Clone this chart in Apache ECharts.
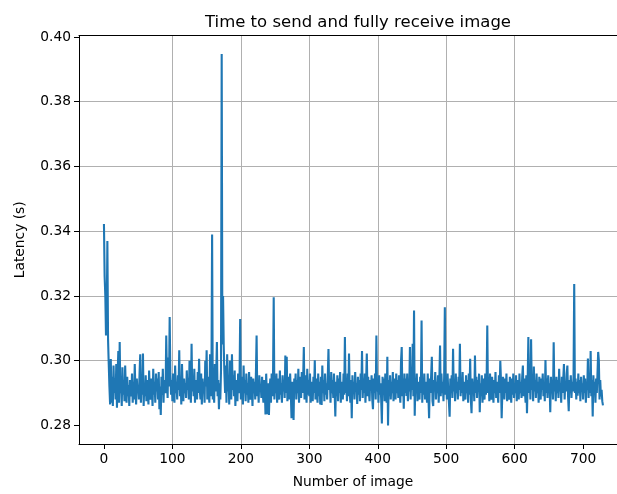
<!DOCTYPE html>
<html>
<head>
<meta charset="utf-8">
<script src="https://cdn.jsdelivr.net/npm/echarts@6/dist/echarts.min.js"></script>
<style>
  html, body { margin: 0; padding: 0; background: #fff; }
  #chart { width: 617px; height: 494px; }
</style>
</head>
<body>
<div id="chart"></div>
<script>
// latency per received image (s), index = image number
var latency = [
    0.3422, 0.3260, 0.3201, 0.3078, 0.3120, 0.3370, 0.3065, 0.2990, 0.2920, 0.2865,
    0.3005, 0.2870, 0.2950, 0.2860, 0.2985, 0.2900, 0.2945, 0.2880, 0.2990, 0.2855,
    0.2960, 0.3030, 0.2870, 0.3058, 0.2900, 0.2930, 0.2860, 0.2980, 0.2895, 0.2940,
    0.2875, 0.2985, 0.2910, 0.2870, 0.2950, 0.2890, 0.2925, 0.2860, 0.2940, 0.2905,
    0.2890, 0.2960, 0.2870, 0.2935, 0.2880, 0.2990, 0.2905, 0.2865, 0.2945, 0.2900,
    0.2925, 0.2880, 0.2960, 0.3020, 0.2870, 0.2945, 0.2895, 0.3022, 0.2860, 0.2930,
    0.2890, 0.2955, 0.2875, 0.2940, 0.2910, 0.2865, 0.2970, 0.2900, 0.2880, 0.2945,
    0.2915, 0.2860, 0.2975, 0.2895, 0.2935, 0.2870, 0.2960, 0.2905, 0.2945, 0.2880,
    0.2965, 0.2850, 0.2920, 0.2832, 0.2950, 0.2895, 0.2975, 0.2870, 0.2940, 0.2910,
    0.2900, 0.3078, 0.2955, 0.2885, 0.3010, 0.2920, 0.3135, 0.2960, 0.2895, 0.2940,
    0.2875, 0.2960, 0.2905, 0.2870, 0.2985, 0.2900, 0.2935, 0.2880, 0.2955, 0.2910,
    0.3032, 0.2890, 0.2950, 0.2865, 0.2990, 0.2915, 0.2875, 0.2945, 0.2900, 0.2930,
    0.2885, 0.2970, 0.2910, 0.2945, 0.2880, 0.3000, 0.2925, 0.2870, 0.3052, 0.2905,
    0.2950, 0.2890, 0.2975, 0.2870, 0.2940, 0.2915, 0.2880, 0.2965, 0.2900, 0.3006,
    0.2910, 0.2880, 0.2960, 0.2865, 0.2945, 0.2900, 0.2935, 0.2870, 0.3000, 0.2920,
    0.3032, 0.2880, 0.2950, 0.2905, 0.2870, 0.3020, 0.2890, 0.2945, 0.3390, 0.2880,
    0.2935, 0.2870, 0.2990, 0.2905, 0.2960, 0.3058, 0.2890, 0.2940, 0.2850, 0.2930,
    0.2880, 0.2970, 0.3947, 0.3050, 0.3200, 0.3045, 0.2960, 0.2900, 0.2985, 0.2870,
    0.3020, 0.2905, 0.2950, 0.2865, 0.3000, 0.2920, 0.2880, 0.3020, 0.2910, 0.2955,
    0.2890, 0.2970, 0.2860, 0.2940, 0.2905, 0.2875, 0.2960, 0.2900, 0.2930, 0.3129,
    0.2880, 0.2950, 0.2910, 0.2865, 0.2985, 0.2900, 0.2940, 0.2875, 0.2960, 0.2895,
    0.2930, 0.2870, 0.2965, 0.2905, 0.2880, 0.2950, 0.2915, 0.2860, 0.2945, 0.2900,
    0.2935, 0.2880, 0.2960, 0.3078, 0.2890, 0.2940, 0.2870, 0.2955, 0.2905, 0.2925,
    0.2885, 0.2950, 0.2900, 0.2870, 0.2940, 0.2915, 0.2834, 0.2960, 0.2890, 0.2835,
    0.2930, 0.2832, 0.2905, 0.2945, 0.2870, 0.2960, 0.2890, 0.2950, 0.3196, 0.2880,
    0.2935, 0.2900, 0.2960, 0.2870, 0.2945, 0.2905, 0.2880, 0.2970, 0.2895, 0.2930,
    0.2870, 0.2955, 0.2905, 0.2940, 0.2885, 0.3016, 0.2900, 0.3012, 0.2875, 0.2950,
    0.2910, 0.2880, 0.2960, 0.2900, 0.2822, 0.2935, 0.2890, 0.2817, 0.2945, 0.2905,
    0.2960, 0.2880, 0.2940, 0.2900, 0.2975, 0.2870, 0.2950, 0.2915, 0.2885, 0.2965,
    0.2900, 0.2945, 0.3042, 0.2880, 0.2955, 0.2910, 0.2870, 0.2975, 0.2895, 0.2940,
    0.2890, 0.2960, 0.2870, 0.2935, 0.2905, 0.2875, 0.2950, 0.2900, 0.3001, 0.2880,
    0.2945, 0.2905, 0.2870, 0.2960, 0.2890, 0.2935, 0.2865, 0.2950, 0.2863, 0.2985,
    0.2900, 0.2940, 0.2875, 0.2960, 0.2895, 0.2930, 0.2880, 0.2950, 0.3036, 0.2910,
    0.2945, 0.2870, 0.2965, 0.2900, 0.2940, 0.2885, 0.2960, 0.2905, 0.2828, 0.2935,
    0.2890, 0.2955, 0.2875, 0.2945, 0.2900, 0.2965, 0.2870, 0.2935, 0.2910, 0.2880,
    0.2960, 0.2895, 0.3073, 0.2900, 0.2945, 0.2875, 0.2960, 0.2890, 0.3022, 0.2905,
    0.2870, 0.2940, 0.2822, 0.2955, 0.2900, 0.2935, 0.2880, 0.2965, 0.2905, 0.2930,
    0.2866, 0.2950, 0.2895, 0.2940, 0.2875, 0.2960, 0.2910, 0.3030, 0.2885, 0.2945,
    0.2900, 0.2960, 0.2870, 0.2935, 0.3022, 0.2890, 0.2950, 0.2905, 0.2875, 0.2940,
    0.2910, 0.2955, 0.2880, 0.2850, 0.2945, 0.2900, 0.2960, 0.2880, 0.3078, 0.2905,
    0.2940, 0.2870, 0.2955, 0.2895, 0.2930, 0.2880, 0.2806, 0.2950, 0.2900, 0.2945,
    0.2875, 0.2960, 0.2905, 0.2870, 0.3012, 0.2800, 0.2940, 0.2890, 0.2955, 0.2880,
    0.2935, 0.2900, 0.2965, 0.2875, 0.2945, 0.2910, 0.2880, 0.2960, 0.2900, 0.2940,
    0.2885, 0.2955, 0.2905, 0.2870, 0.3000, 0.3042, 0.2890, 0.2945, 0.2852, 0.2960,
    0.2900, 0.2945, 0.2891, 0.2960, 0.2875, 0.2935, 0.2905, 0.3042, 0.2880, 0.2950,
    0.2910, 0.3052, 0.2890, 0.3155, 0.2830, 0.2945, 0.2900, 0.2960, 0.2875, 0.2935,
    0.2905, 0.2880, 0.2950, 0.2900, 0.3124, 0.2870, 0.2945, 0.2895, 0.2960, 0.2880,
    0.2935, 0.2905, 0.2870, 0.2960, 0.2890, 0.2822, 0.2945, 0.2900, 0.2955, 0.3012,
    0.2875, 0.2860, 0.2940, 0.2905, 0.2965, 0.2880, 0.2935, 0.2900, 0.2955, 0.2870,
    0.2945, 0.3047, 0.2890, 0.2960, 0.2900, 0.2935, 0.2875, 0.2950, 0.3165, 0.2895,
    0.2940, 0.2880, 0.2960, 0.2905, 0.2870, 0.2827, 0.2945, 0.2900, 0.2955, 0.2885,
    0.3037, 0.2905, 0.2940, 0.2875, 0.2960, 0.2900, 0.2935, 0.2880, 0.2950, 0.2910,
    0.3052, 0.2890, 0.2945, 0.2900, 0.2965, 0.2875, 0.2935, 0.2905, 0.2880, 0.2955,
    0.2900, 0.2940, 0.2870, 0.2960, 0.2895, 0.3006, 0.2880, 0.2838, 0.2945, 0.2905,
    0.2935, 0.2875, 0.3016, 0.2900, 0.2950, 0.2885, 0.2940, 0.2905, 0.2960, 0.2841,
    0.2930, 0.2890, 0.2955, 0.2870, 0.2945, 0.2905, 0.2880, 0.2960, 0.2895, 0.2935,
    0.3109, 0.2900, 0.2945, 0.2875, 0.2960, 0.2905, 0.2880, 0.2950, 0.2915, 0.2870,
    0.2940, 0.2900, 0.2965, 0.2885, 0.2935, 0.2905, 0.2870, 0.2955, 0.2900, 0.3000,
    0.2940, 0.2822, 0.2905, 0.2950, 0.2914, 0.2880, 0.2945, 0.2900, 0.2960, 0.2875,
    0.2935, 0.2905, 0.2880, 0.2950, 0.2910, 0.2870, 0.2945, 0.2895, 0.2960, 0.2885,
    0.2930, 0.2900, 0.2955, 0.2875, 0.2940, 0.2910, 0.2880, 0.2960, 0.2900, 0.2935,
    0.2885, 0.2950, 0.2985, 0.2890, 0.2945, 0.2905, 0.2870, 0.2955, 0.2838, 0.2940,
    0.3073, 0.2900, 0.2950, 0.2880, 0.3066, 0.2910, 0.2945, 0.2875, 0.2982, 0.2905,
    0.2940, 0.2885, 0.2960, 0.2900, 0.2935, 0.2870, 0.2950, 0.2905, 0.2880, 0.2945,
    0.2910, 0.2960, 0.2890, 0.2935, 0.2875, 0.3002, 0.2900, 0.2945, 0.2885, 0.2955,
    0.2905, 0.2930, 0.2841, 0.2950, 0.2900, 0.2940, 0.2880, 0.3057, 0.2905, 0.2935,
    0.2875, 0.2950, 0.2900, 0.2940, 0.2885, 0.2975, 0.2905, 0.2930, 0.2870, 0.2950,
    0.2900, 0.2945, 0.2990, 0.2880, 0.2935, 0.2905, 0.2960, 0.2985, 0.2890, 0.2844,
    0.2940, 0.2900, 0.2955, 0.2885, 0.2935, 0.2905, 0.2950, 0.3237, 0.2900, 0.2945,
    0.2880, 0.2935, 0.2892, 0.2960, 0.2900, 0.2940, 0.2875, 0.2950, 0.2905, 0.2930,
    0.2880, 0.2955, 0.2900, 0.2945, 0.2870, 0.2935, 0.2910, 0.3007, 0.2885, 0.2950,
    0.2900, 0.3030, 0.2890, 0.2940, 0.2828, 0.2955, 0.2905, 0.2935, 0.2870, 0.2945,
    0.2900, 0.2960, 0.3027, 0.3000, 0.2880, 0.2940, 0.2890, 0.2910, 0.2875, 0.2862
];
var xTicks = [0, 100, 200, 300, 400, 500, 600, 700];
var yTicks = [0.28, 0.30, 0.32, 0.34, 0.36, 0.38, 0.40];

var chart = echarts.init(document.getElementById('chart'));

var points = latency.map(function (v, i) { return [i, v]; });

var font = 'DejaVu Sans';

var option = {
    animation: false,
    backgroundColor: '#fff',
    title: {
        text: 'Time to send and fully receive image',
        left: 353,
        top: 9,
        textAlign: 'center',
        textStyle: { fontFamily: font, fontSize: 16.5, fontWeight: 'normal', color: '#000' }
    },
    // matplotlib axes run past the right edge of the picture, so the x range is cut at 749.5
    grid: { left: 79, right: 0, top: 35.5, bottom: 48.5 },
    xAxis: [{
        type: 'value',
        min: -36.45,
        max: 749.5,
        splitNumber: 8,
        name: 'Number of image',
        nameLocation: 'middle',
        nameGap: 31,
        nameTextStyle: { fontFamily: font, fontSize: 13.8, color: '#000', padding: [0, 0, 0, 10] },
        axisLine: { show: true, onZero: false, lineStyle: { color: '#000', width: 1 } },
        axisTick: { show: true, length: 5, lineStyle: { color: '#000' }, customValues: xTicks },
        axisLabel: {
            margin: 8, fontFamily: font, fontSize: 13.8, color: '#000',
            customValues: xTicks,
            formatter: function (v) { return String(Math.round(v)); }
        },
        splitLine: { show: true, showMinLine: false, showMaxLine: false,
            lineStyle: { color: '#b0b0b0', width: 1 } }
    }, {
        type: 'value',
        position: 'top',
        min: -36.45,
        max: 749.5,
        axisLine: { show: true, onZero: false, lineStyle: { color: '#000', width: 1 } },
        axisTick: { show: false },
        axisLabel: { show: false },
        splitLine: { show: false }
    }],
    yAxis: {
        type: 'value',
        min: 0.27427,
        max: 0.40044,
        splitNumber: 6,
        name: 'Latency (s)',
        nameLocation: 'middle',
        nameGap: 52,
        nameTextStyle: { fontFamily: font, fontSize: 13.8, color: '#000' },
        axisLine: { show: true, onZero: false, lineStyle: { color: '#000', width: 1 } },
        axisTick: { show: true, length: 5, lineStyle: { color: '#000' }, customValues: yTicks },
        axisLabel: {
            margin: 8, fontFamily: font, fontSize: 13.8, color: '#000',
            customValues: yTicks,
            formatter: function (v) { return v.toFixed(2); }
        },
        splitLine: { show: true, showMinLine: false, showMaxLine: false,
            lineStyle: { color: '#b0b0b0', width: 1 } }
    },
    series: [{
        type: 'line',
        xAxisIndex: 0,
        data: points,
        showSymbol: false,
        symbol: 'none',
        lineStyle: { color: '#1f77b4', width: 2.1 },
        itemStyle: { color: '#1f77b4' }
    }]
};

chart.setOption(option);
</script>
</body>
</html>
